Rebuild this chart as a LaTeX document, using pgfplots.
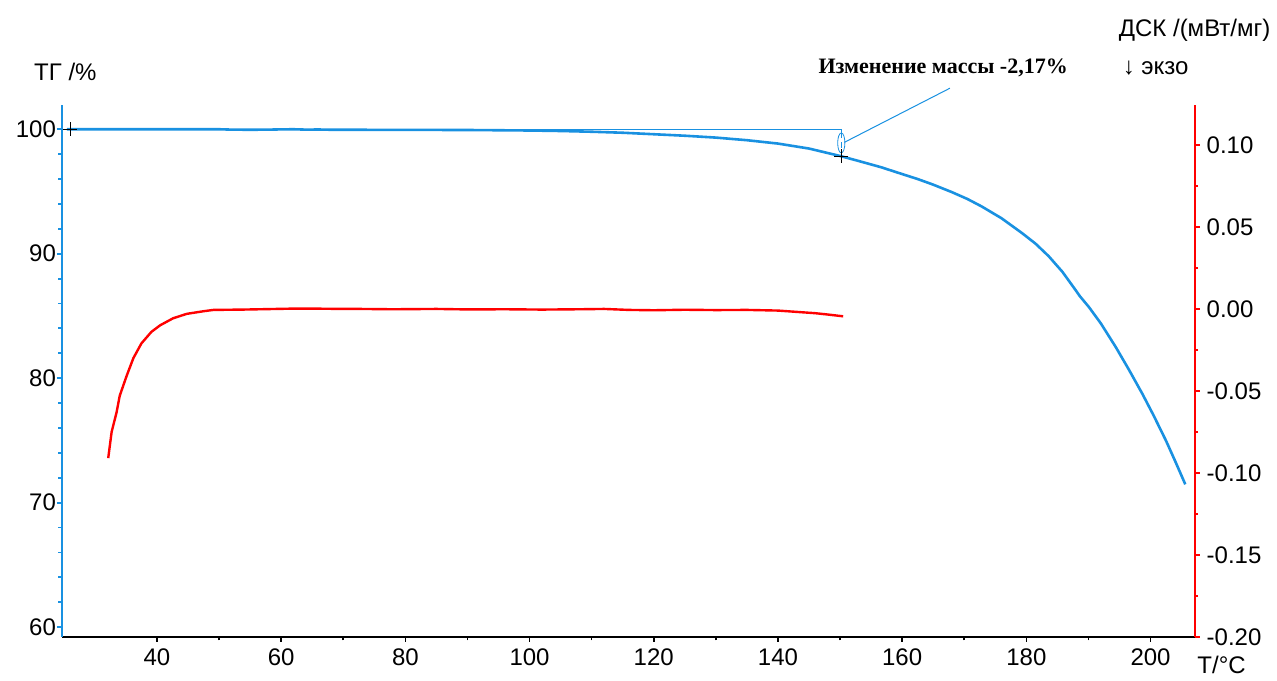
\documentclass[border=0pt]{standalone}
\usepackage{pgfplots}
\pgfplotsset{compat=1.18}
\usepackage{fontspec}
\setmainfont{Liberation Sans}
\newfontfamily\serifb{Liberation Serif}
\definecolor{tgblue}{RGB}{25,145,225}
\definecolor{dscred}{RGB}{255,0,0}
\begin{document}
\begin{tikzpicture}
\pgfplotsset{
  common/.style={
    scale only axis, width=566.5pt, height=266pt,
    xmin=24.7, xmax=207.1,
    tick align=outside,
    major tick length=2.5pt, minor tick length=1.8pt,
    tick label style={font=\fontsize{12}{14}\selectfont},
    /pgf/number format/assume math mode=true,
    clip=false,
  }
}
\begin{axis}[common,
  ymin=59.22, ymax=101.95,
  axis x line*=bottom, axis y line*=left,
  x axis line style={black, line width=1pt, -},
  y axis line style={tgblue, line width=1.3pt, -},
  xtick={40,60,...,200}, minor x tick num=1,
  ytick={60,70,...,100}, minor y tick num=4,
  x tick style={black, line width=0.8pt},
  y tick style={tgblue, line width=0.9pt},
  xticklabel style={yshift=0pt},
  yticklabel style={xshift=3pt},
]
% invisible frame for the page size
\path (rel axis cs:-0.0547,-0.0808) rectangle (rel axis cs:1.0724,1.1974);
\addplot[tgblue, line width=1.3pt] coordinates {
(25.5,100.0) (30,100.0) (40,100.0) (50,100.0) (52,99.97) (55,99.96) (58,99.97) (60,99.99) (62,100.0) (64,99.97) (66,99.98) (68,99.96) (70,99.96) (80,99.95) (90,99.94) (100,99.9) (105,99.86) (110,99.8) (115,99.72) (120,99.6) (125,99.48) (130,99.33) (135,99.12) (140,98.85) (145,98.45) (150.2,97.83) (153,97.45) (156.6,96.95) (160,96.4) (162.5,96.0) (165,95.55) (168,94.95) (170.5,94.4) (172.8,93.8) (176,92.85) (179.3,91.66) (181.5,90.8) (183.6,89.8) (185.8,88.55) (187.9,87.1) (188.6,86.6) (190.1,85.7) (192,84.4) (194.4,82.5) (196.5,80.7) (198.7,78.73) (200.5,77.0) (202.5,74.97) (204,73.3) (205.6,71.47)
};
% reference line and leader
\addplot[tgblue, line width=0.5pt] coordinates {(26,100) (150.2,100) (150.2,99.7)};
\addplot[tgblue, line width=0.5pt] coordinates {(150.7,98.95) (167.7,103.3)};
\draw[tgblue, line width=0.4pt] (axis cs:150.2,98.9) ellipse [x radius=1.8pt, y radius=5pt];
\draw[tgblue, line width=0.4pt, densely dashed] (axis cs:150.2,99.75) -- (axis cs:150.2,98.0);
\addplot[only marks, mark=+, mark size=3.5pt, black, line width=0.5pt] coordinates {(26,100) (150.2,97.83)};
% texts
\node[font=\fontsize{12}{14}\selectfont] at (rel axis cs:0.003,1.062) {ТГ /\%};
\node[font=\fontsize{12}{14}\selectfont] at (rel axis cs:1.0,1.141) {ДСК /(мВт/мг)};
\node[font=\fontsize{12}{14}\selectfont] at (rel axis cs:0.9656,1.0695) {↓ экзо};
\node[font=\fontsize{12}{14}\selectfont] at (rel axis cs:1.0238,-0.0526) {T/°C};
\node[font=\serifb\bfseries\fontsize{11}{13}\selectfont] at (rel axis cs:0.778,1.0695) {Изменение массы -2,17\%};
\end{axis}
\begin{axis}[common,
  ymin=-0.2, ymax=0.1244,
  axis x line=none, axis y line*=right,
  y axis line style={dscred, line width=1.1pt, -},
  ytick={-0.2,-0.15,...,0.11}, minor y tick num=1,
  y tick style={dscred, line width=0.9pt},
  yticklabel style={/pgf/number format/.cd, fixed, fixed zerofill, precision=2},
  scaled y ticks=false,
]
\addplot[dscred, line width=1.2pt] coordinates {
(32.15,-0.091) (32.7,-0.075) (33.5,-0.063) (34.0,-0.053) (35.1,-0.041) (36.2,-0.030) (37.5,-0.021) (39.1,-0.014) (40.5,-0.010) (42.6,-0.0057) (44.8,-0.003) (47.5,-0.0014) (49.1,-0.0006) (53.8,-0.0004) (59.3,0) (62,0.0002) (65,0.0002) (70,0.0) (72.7,0.0) (78,-0.0002) (85,0.0) (90,-0.0003) (96,-0.0002) (102,-0.0004) (108,-0.0002) (112,0.0) (116,-0.0006) (120,-0.0008) (125,-0.0005) (130,-0.0007) (135,-0.0006) (140,-0.0010) (143,-0.0018) (146,-0.0026) (148,-0.0034) (150.5,-0.0045)
};
\end{axis}
\end{tikzpicture}
\end{document}
